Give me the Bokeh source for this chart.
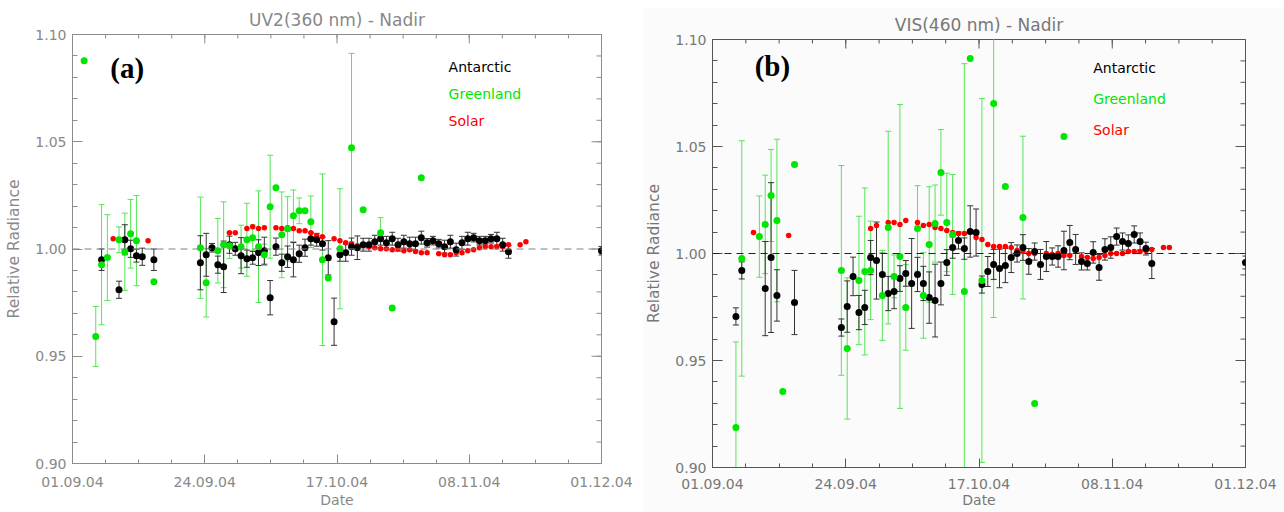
import numpy as np
from bokeh.plotting import figure
from bokeh.layouts import row, column
from bokeh.models import FixedTicker, Span, Label, Range1d, ColumnDataSource, Spacer
from bokeh.embed import file_html
from bokeh.resources import INLINE

# ---------------- axis definitions ----------------
date_ticks = [0, 22.75, 45.5, 68.25, 91]          # days after 01.09.04
date_labels = ["01.09.04", "24.09.04", "17.10.04", "08.11.04", "01.12.04"]
y_ticks = [0.90, 0.95, 1.00, 1.05, 1.10]
y_labels = ["0.90", "0.95", "1.00", "1.05", "1.10"]

# ---------------- panel (a): UV2 360 nm ----------------
a_ant_day = [5, 8, 9, 10, 11, 12, 14,
             22, 23, 24, 25, 26, 27, 28, 29, 30, 31, 32, 33, 34, 35, 36, 37, 38, 39, 40,
             41, 42, 43, 44, 45, 46, 47, 48, 49, 50, 51, 52, 53, 54, 55, 56, 57, 58, 59, 60,
             61, 62, 63, 64, 65, 66, 67, 68, 69, 70, 71, 72, 73, 74, 75, 91]
a_ant_val = [0.9950, 0.9810, 1.0043, 1.0001, 0.9969, 0.9964, 0.9950,
             0.9936, 0.9973, 1.0006, 0.9927, 0.9917, 1.0020, 1.0001, 0.9969, 0.9955, 0.9959,
             0.9983, 0.9992, 0.9773, 1.0011, 0.9936, 0.9964, 0.9950, 0.9978, 1.0006,
             1.0048, 1.0043, 1.0025, 0.9959, 0.9661, 0.9973, 0.9983, 1.0011, 1.0006, 1.0020,
             1.0020, 1.0034, 1.0048, 1.0029, 1.0048, 1.0020, 1.0034, 1.0025, 1.0025, 1.0053,
             1.0029, 1.0039, 1.0025, 1.0011, 1.0034, 0.9997, 1.0029, 1.0048, 1.0053, 1.0039,
             1.0039, 1.0048, 1.0048, 1.0020, 0.9987, 0.9992]
a_ant_err = [0.005, 0.004, 0.007, 0.004, 0.003, 0.004, 0.005,
             0.0126, 0.010, 0.002, 0.004, 0.012, 0.004, 0.003, 0.0084, 0.004, 0.003,
             0.006, 0.0063, 0.008, 0.004, 0.004, 0.005, 0.008, 0.004, 0.004,
             0.003, 0.003, 0.003, 0.008, 0.011, 0.003, 0.004, 0.004, 0.0055, 0.003,
             0.003, 0.003, 0.003, 0.003, 0.003, 0.003, 0.003, 0.003, 0.003, 0.003,
             0.002, 0.002, 0.002, 0.003, 0.003, 0.003, 0.003, 0.003, 0.002, 0.002,
             0.002, 0.002, 0.003, 0.003, 0.003, 0.002]

a_grn_day = [2, 4, 5, 6, 8, 9, 10, 11, 14,
             22, 23, 25, 26, 27, 29, 30, 31, 32, 33, 34, 35, 36, 37, 38, 39, 40, 41,
             43, 44, 46, 48, 50, 53, 55, 60]
a_grn_val = [1.0878, 0.9592, 0.9927, 0.9960, 1.0043, 0.9987, 1.0071, 1.0039, 0.9847,
             1.0006, 0.9843, 0.9992, 1.0020, 1.0015, 1.0011, 1.0043, 1.0052, 1.0011, 0.9973,
             1.0197, 1.0286, 1.0066, 1.0094, 1.0155, 1.0178, 1.0178, 1.0127,
             0.9950, 0.9865, 1.0001, 1.0472, 1.0183, 1.0076, 0.9725, 1.0332]
a_grn_err = [0, 0.014, 0.028, 0.020, 0.006, 0.018, 0.016, 0.021, 0,
             0.0236, 0.016, 0.015, 0.020, 0.006, 0.010, 0.017, 0.006, 0.026, 0.005,
             0.024, 0, 0.020, 0.015, 0.012, 0.006, 0, 0.012,
             0.040, 0, 0.028, 0.044, 0, 0.007, 0, 0]

a_sol_day = [7, 13, 27, 28, 30, 31, 32, 33, 35, 36, 37, 38, 39, 40, 41, 42, 43,
             45, 46, 47, 48, 49, 50, 51, 52, 53, 54, 55, 56, 57, 58, 59, 60, 61,
             63, 64, 65, 66, 67, 68, 69, 70, 71, 72, 73, 74, 75, 77, 78]
a_sol_val = [1.0048, 1.0039, 1.0076, 1.0076, 1.0095, 1.0104, 1.0095, 1.0099,
             1.0099, 1.0095, 1.0099, 1.0095, 1.0085, 1.0085, 1.0076, 1.0062, 1.0057,
             1.0048, 1.0039, 1.0029, 1.0025, 1.0015, 1.0020, 1.0011, 1.0006, 1.0001,
             1.0001, 0.9997, 1.0001, 0.9992, 0.9997, 0.9988, 0.9983, 0.9983,
             0.9978, 0.9973, 0.9973, 0.9983, 0.9983, 0.9992, 0.9997, 1.0006, 1.0011,
             1.0011, 1.0011, 1.0011, 1.0020, 1.0020, 1.0034]

# ---------------- panel (b): VIS 460 nm ----------------
b_ant_day = [4, 5, 9, 10, 11, 14,
             22, 23, 24, 25, 26, 27, 28, 29, 30, 31, 32, 33, 34, 35, 36, 37, 38, 39, 40,
             41, 42, 43, 44, 45, 46, 47, 48, 49, 50, 51, 52, 53, 54, 55, 56, 57, 58, 59, 60,
             61, 62, 63, 64, 65, 66, 67, 68, 69, 70, 71, 72, 73, 74, 75, 91]
b_ant_val = [0.9706, 0.9921, 0.9836, 0.9981, 0.9804, 0.9771,
             0.9654, 0.9752, 0.9893, 0.9724, 0.9748, 0.9981, 0.9967, 0.9902, 0.9813, 0.9822,
             0.9883, 0.9907, 0.9860, 0.9902, 0.9860, 0.9794, 0.9780, 0.9860, 0.9958,
             1.0028, 1.0061, 1.0023, 1.0103, 1.0098, 0.9855, 0.9916, 0.9949, 0.9930, 0.9944,
             0.9981, 1.0000, 1.0028, 0.9963, 1.0009, 0.9949, 0.9986, 0.9986, 0.9986, 1.0014,
             1.0051, 1.0019, 0.9963, 0.9953, 1.0005, 0.9935, 1.0019, 1.0028, 1.0079, 1.0056,
             1.0047, 1.0089, 1.0056, 1.0023, 0.9953, 0.9958]
b_ant_err = [0.004, 0.004, 0.022, 0.035, 0.012, 0.015,
             0.004, 0.012, 0.009, 0.008, 0.008, 0.008, 0.018, 0.010, 0.008, 0.008,
             0.006, 0.006, 0.021, 0.008, 0.008, 0.012, 0.017, 0.010, 0.006,
             0.005, 0.004, 0.005, 0.012, 0.011, 0.004, 0.007, 0.007, 0.009, 0.008,
             0.007, 0.004, 0.006, 0.006, 0.004, 0.007, 0.007, 0.004, 0.005, 0.009,
             0.008, 0.007, 0.004, 0.003, 0.005, 0.006, 0.005, 0.005, 0.004, 0.004,
             0.004, 0.004, 0.004, 0.003, 0.007, 0.003]

b_grn_day = [4, 5, 8, 9, 10, 11, 12, 14,
             22, 23, 25, 26, 27, 29, 30, 31, 32, 33,
             35, 36, 37, 38, 39, 40, 41, 43, 44, 46,
             48, 50, 53, 55, 60]
b_grn_val = [0.9187, 0.9977, 1.0079, 1.0136, 1.0271, 1.0154, 0.9355, 1.0416,
             0.9921, 0.9556, 0.9874, 0.9916, 0.9921, 0.9804, 1.0121, 0.9893, 0.9986, 0.9748,
             1.0117, 0.9804, 1.0042, 1.0140, 1.0379, 1.0145, 1.0089, 0.9822, 1.0911, 0.9874,
             1.0701, 1.0313, 1.0168, 0.9299, 1.0547]
b_grn_err = [0.040, 0.055, 0.019, 0.023, 0.0215, 0.038, 0, 0,
             0.049, 0.033, 0.030, 0.039, 0.023, 0.021, 0.045, 0.010, 0.071, 0.020,
             0.020, 0.020, 0.027, 0.018, 0.020, 0.023, 0.028, 0.1065, 0, 0.085,
             0.100, 0, 0.038, 0, 0]

b_sol_day = [7, 13, 27, 28, 30, 31, 32, 33, 35, 36, 37, 38, 39, 40, 41, 42, 43,
             45, 46, 47, 48, 49, 50, 51, 52, 53, 54, 55, 57, 58, 59, 60, 61,
             63, 64, 65, 66, 67, 68, 69, 70, 71, 72, 73, 74, 75, 77, 78]
b_sol_val = [1.0098, 1.0084, 1.0117, 1.0131, 1.0145, 1.0145, 1.0136, 1.0154,
             1.0145, 1.0131, 1.0136, 1.0121, 1.0117, 1.0107, 1.0098, 1.0093, 1.0093,
             1.0075, 1.0065, 1.0042, 1.0033, 1.0033, 1.0033, 1.0028, 1.0014, 1.0009,
             1.0000, 1.0000, 1.0000, 0.9995, 1.0000, 0.9991, 0.9991,
             0.9986, 0.9981, 0.9977, 0.9981, 0.9991, 1.0000, 1.0000, 1.0000, 1.0009,
             1.0009, 1.0009, 1.0014, 1.0019, 1.0028, 1.0028]

FONT = "DejaVu Sans"
GREEN = "#00e600"
GREEN_BAR = "#55e655"
RED = "#ff0000"

X_MINOR = list(np.arange(17) * 91 / 16)
Y_MINOR = [round(0.90 + 0.01 * i, 2) for i in range(21)]
X0, X1 = 0, 91
Y0, Y1 = 0.90, 1.10


def errbars(p, d, v, e, color, cap):
    d = np.asarray(d, float); v = np.asarray(v, float); e = np.asarray(e, float)
    m = e > 0
    src = ColumnDataSource(dict(d=d[m], lo=v[m] - e[m], hi=v[m] + e[m]))
    p.segment(x0="d", y0="lo", x1="d", y1="hi", source=src, line_color=color, line_width=1)
    p.scatter(x="d", y="hi", source=src, marker="dash", size=cap, line_color=color, line_width=1)
    p.scatter(x="d", y="lo", source=src, marker="dash", size=cap, line_color=color, line_width=1)


def style_axis(ax, color, text_color, is_x):
    ax.axis_line_color = color
    ax.major_tick_line_color = color
    ax.minor_tick_line_color = color
    ax.major_tick_out = 0
    ax.minor_tick_out = 0
    ax.major_tick_in = 9 if is_x else 10
    ax.minor_tick_in = 4 if is_x else 5
    if is_x:
        ax.ticker = FixedTicker(ticks=date_ticks, minor_ticks=X_MINOR)
        ax.major_label_overrides = {t: l for t, l in zip(date_ticks, date_labels)}
    else:
        ax.ticker = FixedTicker(ticks=y_ticks, minor_ticks=Y_MINOR)
        ax.major_label_overrides = {t: l for t, l in zip(y_ticks, y_labels)}
    ax.major_label_text_font = FONT
    ax.major_label_text_color = text_color
    ax.major_label_text_font_size = "14px"
    ax.major_label_standoff = 6


def opposite_ticks(p, color):
    # inward ticks on the top and right frame edges (half of each centred dash is clipped)
    p.scatter(x=date_ticks, y=[Y1] * len(date_ticks), marker="dash", angle=np.pi / 2,
              size=18, line_color=color, line_width=1)
    p.scatter(x=X_MINOR, y=[Y1] * len(X_MINOR), marker="dash", angle=np.pi / 2,
              size=8, line_color=color, line_width=1)
    p.scatter(x=[X1] * len(y_ticks), y=y_ticks, marker="dash", size=20,
              line_color=color, line_width=1)
    p.scatter(x=[X1] * len(Y_MINOR), y=Y_MINOR, marker="dash", size=10,
              line_color=color, line_width=1)


def build(title, tag, ant, grn, sol, fw, fh, mb, axis_col, text_col, dash_col, bg,
          leg_x, leg_y, tag_xy, x_tick_standoff, xlab_standoff, title_offset, title_standoff):
    p = figure(frame_width=fw, frame_height=fh,
               min_border_left=mb[0], min_border_right=mb[1],
               min_border_top=mb[2], min_border_bottom=mb[3],
               x_range=Range1d(X0, X1), y_range=Range1d(Y0, Y1),
               output_backend="svg", toolbar_location=None,
               background_fill_color=bg, border_fill_color=bg)
    p.xgrid.visible = False
    p.ygrid.visible = False
    p.outline_line_color = axis_col

    p.title.text = title
    p.title.align = "center"
    p.title.offset = title_offset
    p.title.text_font = FONT
    p.title.text_font_size = "17px"
    p.title.text_font_style = "normal"
    p.title.text_color = text_col
    p.title.standoff = title_standoff

    style_axis(p.xaxis[0], axis_col, text_col, True)
    style_axis(p.yaxis[0], axis_col, text_col, False)
    p.xaxis[0].major_label_standoff = x_tick_standoff
    p.xaxis[0].axis_label = "Date"
    p.yaxis[0].axis_label = "Relative Radiance"
    for ax in (p.xaxis[0], p.yaxis[0]):
        ax.axis_label_text_font = FONT
        ax.axis_label_text_font_size = "14px"
        ax.axis_label_text_font_style = "normal"
        ax.axis_label_text_color = text_col
    p.yaxis[0].axis_label_text_font_size = "15.5px"
    p.xaxis[0].axis_label_standoff = xlab_standoff
    p.yaxis[0].axis_label_standoff = 9

    opposite_ticks(p, axis_col)

    p.add_layout(Span(location=1.0, dimension="width", line_color=dash_col,
                      line_width=1, line_dash="7 5"))

    ad, av, ae = ant
    gd, gv, ge = grn
    sd, sv = sol
    errbars(p, gd, gv, ge, GREEN_BAR, 6)
    errbars(p, ad, av, ae, "#333333", 6)
    p.scatter(x=sd, y=sv, marker="circle", size=5.5, fill_color=RED, line_color=None)
    p.scatter(x=ad, y=av, marker="circle", size=7, fill_color="black", line_color=None)
    p.scatter(x=gd, y=gv, marker="circle", size=7, fill_color=GREEN, line_color=None)

    for txt, col, yy in zip(["Antarctic", "Greenland", "Solar"], ["black", GREEN, RED], leg_y):
        p.add_layout(Label(x=leg_x, y=yy, text=txt, text_color=col, text_font=FONT,
                           text_font_size="14px", text_baseline="middle", text_align="left"))
    p.add_layout(Label(x=tag_xy[0], y=tag_xy[1], text=tag, text_color="black",
                       text_font="Liberation Serif", text_font_style="bold",
                       text_font_size="29px", text_baseline="middle", text_align="left"))
    return p


pa = build("UV2(360 nm) - Nadir", "(a)",
           (a_ant_day, a_ant_val, a_ant_err), (a_grn_day, a_grn_val, a_grn_err),
           (a_sol_day, a_sol_val),
           529, 429, (72, 41, 34, 48), "#8c8c8c", "#888888", "#808080", "white",
           64.7, [1.085, 1.0724, 1.0598], (6.5, 1.0845), 13, 2, -14, 9)
pb = build("VIS(460 nm) - Nadir", "(b)",
           (b_ant_day, b_ant_val, b_ant_err), (b_grn_day, b_grn_val, b_grn_err),
           (b_sol_day, b_sol_val),
           533, 428, (66, 43, 32, 45), "#555555", "#777777", "#222222", "#fbfbfb",
           65.0, [1.0869, 1.0724, 1.0575], (7.2, 1.0874), 11, 0, 0, 9)

layout = row(column(pa), column(Spacer(height=7, width=642), pb))
open("out.html", "w").write(file_html(layout, INLINE))
